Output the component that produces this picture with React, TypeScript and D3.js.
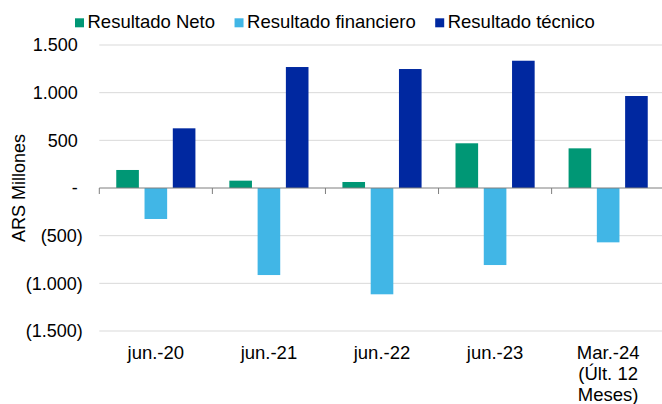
import { useEffect, useRef } from "react";
import * as d3 from "d3";

const categories = ["jun.-20", "jun.-21", "jun.-22", "jun.-23", "Mar.-24 (Últ. 12 Meses)"];
const categoryLines = [["jun.-20"], ["jun.-21"], ["jun.-22"], ["jun.-23"], ["Mar.-24", "(Últ. 12", "Meses)"]];
const seriesNames = ["Resultado Neto", "Resultado financiero", "Resultado técnico"];
const seriesColors = ["#009775", "#41b6e6", "#0028a0"];
const resultadoNeto = [189, 77, 63, 469, 416];
const resultadoFinanciero = [-325, -913, -1115, -808, -570];
const resultadoTecnico = [626, 1269, 1248, 1335, 965];
const yTicks = [1500, 1000, 500, 0, -500, -1000, -1500];

const FONT = "'Liberation Sans', Arial, sans-serif";

export default function App() {
  const svgRef = useRef<SVGSVGElement>(null);

  useEffect(() => {
    if (!svgRef.current) return;
    const width = 662;
    const height = 404;
    const svg = d3.select(svgRef.current).attr("width", width).attr("height", height);
    svg.selectAll("*").remove();

    const plot = { left: 99.3, right: 664.7, top: 45, bottom: 331 };

    const x = d3.scaleBand<string>().domain(categories).range([plot.left, plot.right]);
    const xInner = d3
      .scaleBand<string>()
      .domain(seriesNames)
      .range([0, x.bandwidth()])
      .paddingInner(0.2)
      .paddingOuter(0.6);
    const y = d3.scaleLinear().domain([-1500, 1500]).range([plot.bottom, plot.top]);

    const fmt = (v: number) => {
      if (v === 0) return "-";
      const s = d3.format(",")(Math.abs(v)).replace(/,/g, ".");
      return v < 0 ? `(${s})` : s;
    };

    // gridlines
    svg
      .append("g")
      .selectAll("line")
      .data(yTicks.filter((t) => t !== 0))
      .join("line")
      .attr("x1", plot.left)
      .attr("x2", width)
      .attr("y1", (d) => y(d))
      .attr("y2", (d) => y(d))
      .attr("stroke", "#d9d9d9")
      .attr("stroke-width", 1);

    // y tick labels
    svg
      .append("g")
      .selectAll("text")
      .data(yTicks)
      .join("text")
      .attr("x", (d) => (d < 0 ? 82.7 : 77.8))
      .attr("y", (d) => y(d))
      .attr("dy", "0.35em")
      .attr("text-anchor", "end")
      .style("font-family", FONT)
      .style("font-size", "18px")
      .style("fill", "#000")
      .text((d) => fmt(d));

    // y axis title
    svg
      .append("text")
      .attr("transform", `translate(25,${y(0)}) rotate(-90)`)
      .attr("text-anchor", "middle")
      .style("font-family", FONT)
      .style("font-size", "18px")
      .text("ARS Millones");

    // bars
    const seriesData = [resultadoNeto, resultadoFinanciero, resultadoTecnico];
    seriesData.forEach((values, si) => {
      svg
        .append("g")
        .selectAll("rect")
        .data(values)
        .join("rect")
        .attr("x", (_, i) => (x(categories[i]) ?? 0) + (xInner(seriesNames[si]) ?? 0))
        .attr("y", (d) => Math.min(y(d), y(0)))
        .attr("width", xInner.bandwidth())
        .attr("height", (d) => Math.abs(y(d) - y(0)))
        .attr("fill", seriesColors[si]);
    });

    // zero axis line with ticks
    const axis = svg.append("g");
    axis
      .append("line")
      .attr("x1", plot.left)
      .attr("x2", width)
      .attr("y1", y(0))
      .attr("y2", y(0))
      .attr("stroke", "#7f7f7f")
      .attr("stroke-width", 1);
    axis
      .selectAll("line.tick")
      .data(categories)
      .join("line")
      .attr("class", "tick")
      .attr("x1", (d) => x(d) ?? 0)
      .attr("x2", (d) => x(d) ?? 0)
      .attr("y1", y(0))
      .attr("y2", y(0) + 6)
      .attr("stroke", "#7f7f7f")
      .attr("stroke-width", 1);

    // x labels
    svg
      .append("g")
      .selectAll("text")
      .data(categories)
      .join("text")
      .attr("x", (d) => (x(d) ?? 0) + x.bandwidth() / 2)
      .attr("y", 359.3)
      .attr("text-anchor", "middle")
      .style("font-family", FONT)
      .style("font-size", "18.5px")
      .each(function (_, i) {
        const t = d3.select(this);
        categoryLines[i].forEach((line, li) => {
          t.append("tspan")
            .attr("x", (x(categories[i]) ?? 0) + x.bandwidth() / 2)
            .attr("dy", li === 0 ? 0 : 21)
            .text(line);
        });
      });

    // legend
    const legend = svg.append("g");
    let lx = 75;
    seriesNames.forEach((name, i) => {
      legend
        .append("rect")
        .attr("x", lx)
        .attr("y", 18.3)
        .attr("width", 9)
        .attr("height", 9)
        .attr("fill", seriesColors[i]);
      const txt = legend
        .append("text")
        .attr("x", lx + 12.5)
        .attr("y", 27.7)
        .style("font-family", FONT)
        .style("font-size", "18.5px")
        .text(name);
      const w = (txt.node() as SVGTextElement).getComputedTextLength();
      lx += 12.5 + w + 19.5;
    });
  }, []);

  return (
    <svg
      ref={svgRef}
      style={{ position: "absolute", left: 0, top: 0, background: "#fff" }}
    />
  );
}
